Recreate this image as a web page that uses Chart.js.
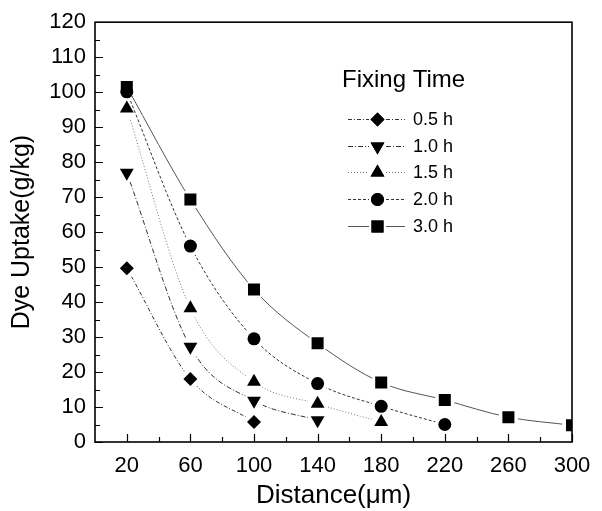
<!DOCTYPE html>
<html><head><meta charset="utf-8">
<script src="https://cdn.jsdelivr.net/npm/chart.js@4.4.0/dist/chart.umd.min.js"></script>
<style>html,body{margin:0;padding:0;background:#fff}#wrap{width:602px;height:511px;position:relative}</style>
</head><body><div id="wrap"><canvas id="c" width="602" height="511"></canvas></div>
<script>
// ---- data ----
const seriesLabels = ['0.5 h', '1.0 h', '1.5 h', '2.0 h', '3.0 h'];
const distances = [20, 60, 100, 140, 180, 220, 260, 300];
const uptake05 = [49.7, 18.0, 5.7];
const uptake10 = [77.0, 27.2, 11.8, 6.2];
const uptake15 = [95.3, 38.2, 17.2, 10.9, 5.7];
const uptake20 = [100.1, 56.0, 29.5, 16.7, 10.2, 5.0];
const uptake30 = [101.5, 69.3, 43.6, 28.2, 17.0, 12.0, 7.1, 4.8];
const xTickValues = [20, 60, 100, 140, 180, 220, 260, 300];
const xMinorValues = [40, 80, 120, 160, 200, 240, 280];
const yTickValues = [0, 10, 20, 30, 40, 50, 60, 70, 80, 90, 100, 110, 120];
const yMinorValues = [5, 15, 25, 35, 45, 55, 65, 75, 85, 95, 105, 115];
const legendTitle = 'Fixing Time';
const xTitle = 'Distance(\u03bcm)';
const yTitle = 'Dye Uptake(g/kg)';

// ---- styles ----
const seriesValues = [uptake05, uptake10, uptake15, uptake20, uptake30];
const pStyles = ['rectRot', 'triangle', 'triangle', 'circle', 'rect'];
const pRot = [0, 180, 0, 0, 0];
const pRad = [7, 8, 8, 6.5, 8.5];
const dashes = [[4, 2, 1, 2], [5, 2, 1, 2], [1, 2], [3, 2], []];
const lColors = ['#333', '#333', '#777', '#333', '#555'];
const FONT = "'Liberation Sans', Arial, sans-serif";

const toPts = vals => vals.map((v, i) => ({x: distances[i], y: v}));

const markerSets = [];
const lineSets = [];
for (let i = 4; i >= 0; i--) {
  markerSets.push({
    label: seriesLabels[i], data: toPts(seriesValues[i]), showLine: false,
    pointStyle: pStyles[i], rotation: pRot[i], pointRadius: pRad[i],
    pointBackgroundColor: '#000', pointBorderColor: '#000', pointBorderWidth: 0
  });
}
for (let i = 4; i >= 0; i--) {
  lineSets.push({
    label: seriesLabels[i] + ' curve', data: toPts(seriesValues[i]), showLine: true,
    borderColor: lColors[i], borderWidth: 1, borderDash: dashes[i],
    cubicInterpolationMode: 'monotone', fill: false,
    pointStyle: 'circle', pointRadius: 10, pointBackgroundColor: '#fff', pointBorderWidth: 0
  });
}

const framePlugin = {
  id: 'frame',
  afterDatasetsDraw(chart) {
    const {ctx, chartArea: a, scales: {x, y}} = chart;
    ctx.save();
    ctx.strokeStyle = '#000';
    ctx.lineWidth = 1.6;
    ctx.setLineDash([]);
    ctx.strokeRect(a.left, a.top, a.right - a.left, a.bottom - a.top);
    ctx.lineWidth = 1.2;
    ctx.beginPath();
    yTickValues.forEach(v => { const p = Math.round(y.getPixelForValue(v)) + 0.5; ctx.moveTo(a.left, p); ctx.lineTo(a.left + 8, p); });
    yMinorValues.forEach(v => { const p = Math.round(y.getPixelForValue(v)) + 0.5; ctx.moveTo(a.left, p); ctx.lineTo(a.left + 5, p); });
    xTickValues.forEach(v => { const p = Math.round(x.getPixelForValue(v)) + 0.5; ctx.moveTo(p, a.bottom); ctx.lineTo(p, a.bottom - 8); });
    xMinorValues.forEach(v => { const p = Math.round(x.getPixelForValue(v)) + 0.5; ctx.moveTo(p, a.bottom); ctx.lineTo(p, a.bottom - 5); });
    ctx.stroke();
    ctx.restore();
  }
};

const legendPlugin = {
  id: 'customLegend',
  afterDraw(chart) {
    const ctx = chart.ctx;
    const rows = [119, 146, 172, 199, 226];
    ctx.save();
    ctx.fillStyle = '#000';
    ctx.textBaseline = 'middle';
    ctx.textAlign = 'left';
    ctx.font = '24px ' + FONT;
    ctx.fillText(legendTitle, 342, 80);
    ctx.font = '18px ' + FONT;
    for (let i = 0; i < 5; i++) {
      const yy = rows[i] + 0.5;
      ctx.strokeStyle = lColors[i];
      ctx.lineWidth = 1;
      ctx.setLineDash(dashes[i]);
      ctx.beginPath();
      ctx.moveTo(348, yy); ctx.lineTo(369, yy);
      ctx.moveTo(386, yy); ctx.lineTo(405, yy);
      ctx.stroke();
      ctx.setLineDash([]);
      ctx.fillStyle = '#000';
      Chart.helpers.drawPoint(ctx, {pointStyle: pStyles[i], rotation: pRot[i], radius: pRad[i], borderWidth: 0}, 377.5, yy);
      ctx.fill();
      ctx.fillText(seriesLabels[i], 413, rows[i] + 1);
    }
    ctx.restore();
  }
};

new Chart(document.getElementById('c'), {
  type: 'scatter',
  data: {datasets: markerSets.concat(lineSets)},
  options: {
    responsive: false, animation: false, events: [],
    layout: {padding: {top: 17, right: 30, left: 0, bottom: 0}},
    plugins: {legend: {display: false}, tooltip: {enabled: false}},
    scales: {
      x: {
        type: 'linear', min: 0, max: 300,
        afterBuildTicks: s => { s.ticks = xTickValues.map(v => ({value: v})); },
        afterFit: s => { s.height = 69; },
        grid: {display: false, drawTicks: false}, border: {display: false},
        ticks: {color: '#000', font: {family: FONT, size: 22}, padding: 11, maxRotation: 0, autoSkip: false},
        title: {display: true, text: xTitle, color: '#000', font: {family: FONT, size: 26}, padding: {top: 0, bottom: 0}}
      },
      y: {
        type: 'linear', min: 0, max: 120,
        afterBuildTicks: s => { s.ticks = yTickValues.map(v => ({value: v})); },
        afterFit: s => { s.width = 95; },
        grid: {display: false, drawTicks: false}, border: {display: false},
        ticks: {color: '#000', font: {family: FONT, size: 22}, padding: 9, autoSkip: false},
        title: {display: true, text: yTitle, color: '#000', font: {family: FONT, size: 25}, padding: {top: 7, bottom: 0}}
      }
    }
  },
  plugins: [framePlugin, legendPlugin]
});
</script></body></html>
